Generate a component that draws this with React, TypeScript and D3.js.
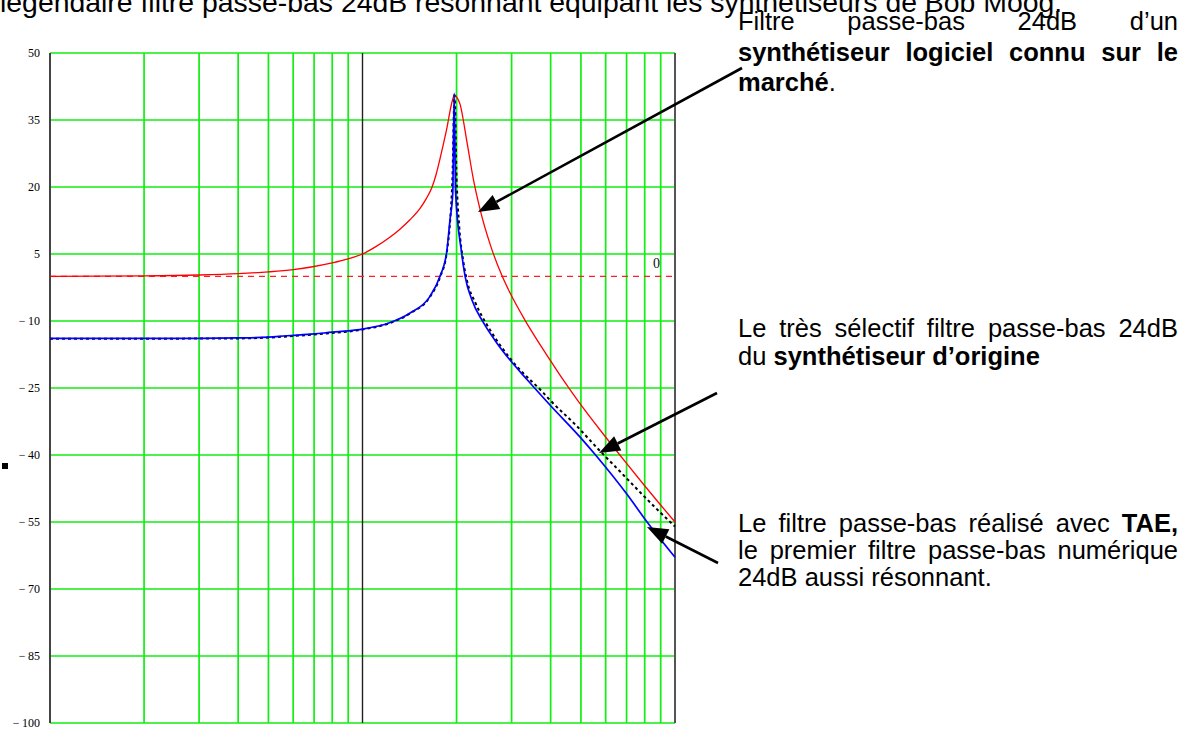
import React, { useEffect, useRef } from 'react';
import * as d3 from 'd3';

const W = 1186;
const H = 729;

// axis ticks
const dbTicks = [50, 35, 20, 5, -10, -25, -40, -55, -70, -85, -100];
const freqGrid = [20, 30, 40, 50, 60, 70, 80, 90, 200, 300, 400, 500, 600, 700, 800, 900];

// red: commercial soft-synth 24dB filter
const redFreq = [10, 20, 30, 40, 50, 60, 70, 80, 90, 100, 110, 122, 131.5, 141.6, 152.8, 160, 167, 172, 177, 182, 186, 190, 193, 197, 200, 205, 216, 226, 238, 256, 280, 297, 331, 370, 398, 435, 486, 597, 702, 802, 902, 1000];
const redDb = [0, 0.1, 0.3, 0.6, 1.0, 1.5, 2.2, 3.0, 3.9, 5.0, 6.6, 8.7, 10.5, 12.6, 15.2, 17.4, 20.0, 22.8, 26.3, 30, 33, 36.5, 38.8, 40.6, 40.2, 38.6, 30, 22, 14.9, 7.2, 0, -3.8, -9.8, -15.3, -18.7, -22.8, -27.6, -35.8, -42.0, -47.0, -51.3, -55.0];

// blue: TAE filter
const blueFreq = [10, 20, 30, 40, 50, 57, 70, 80, 90, 100, 122, 142, 164, 177, 186, 190.5, 194.5, 196.5, 198.5, 207, 213, 224, 243, 269, 297, 336, 398, 497, 563, 702, 814, 1000];
const blueDb = [-13.9, -13.9, -13.9, -13.8, -13.6, -13.3, -12.9, -12.5, -12.2, -11.8, -10.4, -8.2, -4.6, 0, 5.5, 12.6, 18.7, 41, 19, 5.9, 0, -5.3, -10.2, -14.9, -18.8, -23.1, -28.8, -36.0, -40.4, -48.8, -55.0, -62.9];

// black dashed: original synth
const origFreq = [10, 40, 70, 100, 122, 142, 164, 177, 186, 191, 194, 197, 200, 204, 210, 216, 230, 256, 300, 379, 398, 486, 563, 667, 790, 895, 1000];
const origDb = [-14, -13.9, -13, -11.9, -10.5, -8.3, -4.7, -0.2, 5.3, 13, 22, 40.5, 22, 11, 3.5, -1, -6, -12, -18.8, -26.1, -27.7, -33.6, -38.4, -43.7, -49.0, -52.8, -56.0];

type Run = [string, boolean];
const N = (s: string): Run => [s, false];
const B = (s: string): Run => [s, true];

const heading = 'légendaire filtre passe-bas 24dB résonnant équipant les synthétiseurs de Bob Moog.';

const noteSoft: Run[][][] = [
  'Filtre passe-bas 24dB d’un'.split(' ').map((w) => [N(w)]),
  'synthétiseur logiciel connu sur le'.split(' ').map((w) => [B(w)]),
  [[B('marché'), N('.')]],
];
const noteOrig: Run[][][] = [
  'Le très sélectif filtre passe-bas 24dB'.split(' ').map((w) => [N(w)]),
  [[N('du')], [B('synthétiseur')], [B('d’origine')]],
];
const noteTae: Run[][][] = [
  [...'Le filtre passe-bas réalisé avec'.split(' ').map((w) => [N(w)]), [B('TAE,')]],
  'le premier filtre passe-bas numérique'.split(' ').map((w) => [N(w)]),
  '24dB aussi résonnant.'.split(' ').map((w) => [N(w)]),
];

const SANS = "'Liberation Sans', Arial, sans-serif";
const SERIF = "'Liberation Serif', 'Times New Roman', serif";
const FS = 25.5;

const App = () => {
  const ref = useRef<SVGSVGElement>(null);

  useEffect(() => {
    const svg = d3.select(ref.current);
    svg.selectAll('*').remove();

    const x = d3.scaleLog().domain([10, 1000]).range([50, 675]);
    const y = d3.scaleLinear().domain([-100, 50]).range([723, 53]);

    // grid
    const grid = svg.append('g');
    grid
      .selectAll('.h')
      .data(dbTicks)
      .enter()
      .append('line')
      .attr('x1', x(10))
      .attr('x2', x(1000))
      .attr('y1', (d) => y(d))
      .attr('y2', (d) => y(d))
      .attr('stroke', '#11ee11')
      .attr('stroke-width', 1.7);
    grid
      .selectAll('.v')
      .data(freqGrid)
      .enter()
      .append('line')
      .attr('x1', (d) => x(d))
      .attr('x2', (d) => x(d))
      .attr('y1', y(50))
      .attr('y2', y(-100))
      .attr('stroke', '#11ee11')
      .attr('stroke-width', 1.7);

    // axes / borders
    const vline = (f: number, color: string, w: number) =>
      svg
        .append('line')
        .attr('x1', x(f))
        .attr('x2', x(f))
        .attr('y1', y(50))
        .attr('y2', y(-100))
        .attr('stroke', color)
        .attr('stroke-width', w);
    vline(100, '#222', 1.4);
    vline(10, '#444', 2);
    vline(1000, '#555', 2);

    // tick labels
    svg
      .append('g')
      .selectAll('text')
      .data(dbTicks)
      .enter()
      .append('text')
      .attr('x', 40)
      .attr('y', (d) => y(d) + 4)
      .attr('text-anchor', 'end')
      .attr('font-family', SERIF)
      .attr('font-size', 12)
      .attr('fill', '#000')
      .text((d) => (d < 0 ? `\u2212\u2009${Math.abs(d)}` : String(d)));

    // 0 dB reference
    svg
      .append('line')
      .attr('x1', x(10))
      .attr('x2', x(1000))
      .attr('y1', y(0))
      .attr('y2', y(0))
      .attr('stroke', '#ff2020')
      .attr('stroke-width', 1.3)
      .attr('stroke-dasharray', '6,5');
    svg
      .append('text')
      .attr('x', 653)
      .attr('y', y(0) - 8)
      .attr('font-family', SERIF)
      .attr('font-size', 14)
      .attr('fill', '#111')
      .text('0');

    const line = d3
      .line<[number, number]>()
      .x((d) => x(d[0]))
      .y((d) => y(d[1]))
      .curve(d3.curveMonotoneX);

    const zip = (f: number[], v: number[]) => f.map((d, i) => [d, v[i]] as [number, number]);

    svg
      .append('path')
      .attr('d', line(zip(redFreq, redDb)))
      .attr('fill', 'none')
      .attr('stroke', '#ff0000')
      .attr('stroke-width', 1.3);
    svg
      .append('path')
      .attr('d', line(zip(origFreq, origDb)))
      .attr('fill', 'none')
      .attr('stroke', '#000')
      .attr('stroke-width', 2)
      .attr('stroke-dasharray', '3,3');
    svg
      .append('path')
      .attr('d', line(zip(blueFreq, blueDb)))
      .attr('fill', 'none')
      .attr('stroke', '#0000ff')
      .attr('stroke-width', 1.7);

    // cropped marker on the left edge
    svg.append('rect').attr('x', 2).attr('y', 463).attr('width', 6).attr('height', 6).attr('fill', '#000');

    // heading (cut by the top edge)
    svg
      .append('text')
      .attr('x', 0)
      .attr('y', 12)
      .attr('font-family', SANS)
      .attr('font-size', 28.4)
      .attr('fill', '#000')
      .text(heading);

    // justified annotation lines
    const placeLine = (words: Run[][], x0: number, x1: number, base: number, justify: boolean) => {
      const g = svg.append('g');
      const nodes = words.map((runs) => {
        const t = g
          .append('text')
          .attr('y', base)
          .attr('font-family', SANS)
          .attr('font-size', FS)
          .attr('fill', '#000');
        runs.forEach(([s, b]) => t.append('tspan').attr('font-weight', b ? 'bold' : 'normal').text(s));
        return t;
      });
      const widths = nodes.map((n) => (n.node() as SVGTextElement).getComputedTextLength());
      const gap = justify && words.length > 1 ? (x1 - x0 - d3.sum(widths)) / (words.length - 1) : FS * 0.278;
      let cx = x0;
      nodes.forEach((n, i) => {
        n.attr('x', cx);
        cx += widths[i] + gap;
      });
    };
    const block = (lines: Run[][][], top: number, step: number) =>
      lines.forEach((l, i) => placeLine(l, 738, 1178, top + i * step, i < lines.length - 1));

    block(noteSoft, 30, 30.5);
    block(noteOrig, 337, 28);
    block(noteTae, 532, 27);

    // arrows
    const arrow = (x1: number, y1: number, x2: number, y2: number) => {
      const a = Math.atan2(y2 - y1, x2 - x1);
      const L = 21;
      const hw = 8;
      const bx = x2 - L * Math.cos(a);
      const by = y2 - L * Math.sin(a);
      svg
        .append('line')
        .attr('x1', x1)
        .attr('y1', y1)
        .attr('x2', bx)
        .attr('y2', by)
        .attr('stroke', '#000')
        .attr('stroke-width', 2.6);
      svg
        .append('polygon')
        .attr(
          'points',
          [
            [x2, y2],
            [bx + hw * Math.sin(a), by - hw * Math.cos(a)],
            [bx - hw * Math.sin(a), by + hw * Math.cos(a)],
          ]
            .map((p) => p.join(','))
            .join(' ')
        )
        .attr('fill', '#000');
    };
    arrow(742, 68, 478, 212);
    arrow(717, 393, 599, 453);
    arrow(718, 563, 647, 527);
  }, []);

  return (
    <>
      <style>{'body{margin:0}'}</style>
      <svg ref={ref} width={W} height={H} style={{ display: 'block', background: '#fff' }} />
    </>
  );
};

export default App;
